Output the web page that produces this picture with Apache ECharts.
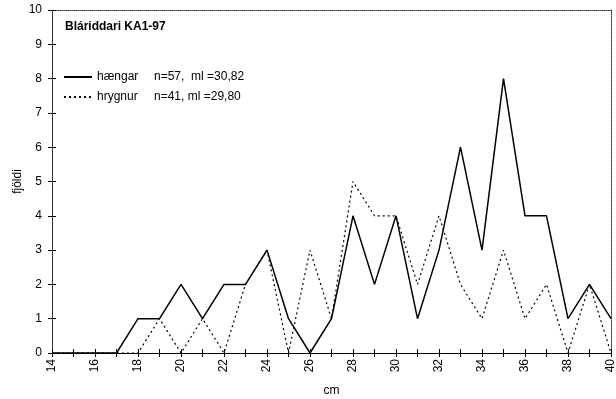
<!DOCTYPE html>
<html><head><meta charset="utf-8">
<script src="https://cdn.jsdelivr.net/npm/echarts@6/dist/echarts.min.js"></script>
<style>html,body{margin:0;padding:0;background:#fff}#c{width:616px;height:399px}</style>
</head><body><div id="c"></div>
<script>
const lengths = [14,15,16,17,18,19,20,21,22,23,24,25,26,27,28,29,30,31,32,33,34,35,36,37,38,39,40];
const haengar = [0,0,0,0,1,1,2,1,2,2,3,1,0,1,4,2,4,1,3,6,3,8,4,4,1,2,1];
const hrygnur = [0,0,0,0,0,1,0,1,0,2,3,0,3,1,5,4,4,2,4,2,1,3,1,2,0,2,0];
const seriesNames = ['hængar','hrygnur'];
const seriesStats = ['n=57,  ml =30,82','n=41, ml =29,80'];
const titleText = 'Bláriddari KA1-97';
const xName = 'cm', yName = 'fjöldi';

const font = 'Liberation Sans, Arial, sans-serif';
const pair = a => lengths.map((x,i)=>[x,a[i]]);
const chart = echarts.init(document.getElementById('c'));
const baseX = {type:'value',min:14,max:40,interval:1,gridIndex:0};
const baseY = {type:'value',min:0,max:10,interval:1,gridIndex:0};
chart.setOption({
  animation:false,
  textStyle:{fontFamily:font},
  title:{text:titleText,left:65,top:21,padding:0,textStyle:{fontFamily:font,fontSize:12,fontWeight:'bold',color:'#000'}},
  legend:{
    orient:'vertical',left:63,top:71,padding:0,itemGap:8,itemWidth:28,itemHeight:12,
    data:seriesNames,
    itemStyle:{opacity:0},
    formatter:n=>{const i=seriesNames.indexOf(n);return '{a|'+n+'}{b|'+seriesStats[i]+'}';},
    textStyle:{fontFamily:font,fontSize:12,color:'#000',
      rich:{a:{width:57,fontSize:12,fontFamily:font,color:'#000'},b:{fontSize:12,fontFamily:font,color:'#000'}}}
  },
  grid:{left:52,right:5,top:10,bottom:46,containLabel:false,outerBoundsMode:'none'},
  xAxis:[
    Object.assign({},baseX,{position:'bottom',name:xName,nameLocation:'middle',nameGap:32,
      nameMoveOverlap:false,
      nameTextStyle:{fontFamily:font,fontSize:12,color:'#000'},
      axisLine:{onZero:false,lineStyle:{color:'#000',width:1}},
      axisTick:{show:true,length:4,lineStyle:{color:'#000'}},
      axisLabel:{rotate:90,fontSize:12,color:'#000',fontFamily:font,margin:6,
        formatter:v=>(v%2===0?String(v):'')},
      splitLine:{show:false}}),
    Object.assign({},baseX,{position:'bottom',
      axisLine:{show:false},axisTick:{show:true,inside:true,length:4,lineStyle:{color:'#000'}},
      axisLabel:{show:false},splitLine:{show:false}}),
    Object.assign({},baseX,{position:'top',
      axisLine:{show:true,onZero:false,lineStyle:{color:'#333',type:'dotted',width:1}},
      axisTick:{show:false},axisLabel:{show:false},splitLine:{show:false}})
  ],
  yAxis:[
    Object.assign({},baseY,{position:'left',name:yName,nameLocation:'middle',nameGap:28,
      nameMoveOverlap:false,
      nameTextStyle:{fontFamily:font,fontSize:12,color:'#000'},
      axisLine:{show:true,onZero:false,lineStyle:{color:'#333',width:1}},
      axisTick:{show:true,length:4,lineStyle:{color:'#000'}},
      axisLabel:{fontSize:12,color:'#000',fontFamily:font,margin:10},
      splitLine:{show:false}}),
    Object.assign({},baseY,{position:'left',
      axisLine:{show:false},axisTick:{show:true,inside:true,length:4,lineStyle:{color:'#000'}},
      axisLabel:{show:false},splitLine:{show:false}}),
    Object.assign({},baseY,{position:'right',
      axisLine:{show:true,onZero:false,lineStyle:{color:'#333',type:'dotted',width:1}},
      axisTick:{show:false},axisLabel:{show:false},splitLine:{show:false}})
  ],
  series:[
    {name:seriesNames[0],type:'line',data:pair(haengar),showSymbol:false,symbol:'none',
     lineStyle:{color:'#000',width:1.5},itemStyle:{color:'#000'}},
    {name:seriesNames[1],type:'line',data:pair(hrygnur),showSymbol:false,symbol:'none',
     lineStyle:{color:'#000',width:1.2,type:[2,3]},itemStyle:{color:'#000'}}
  ]
});
</script></body></html>
